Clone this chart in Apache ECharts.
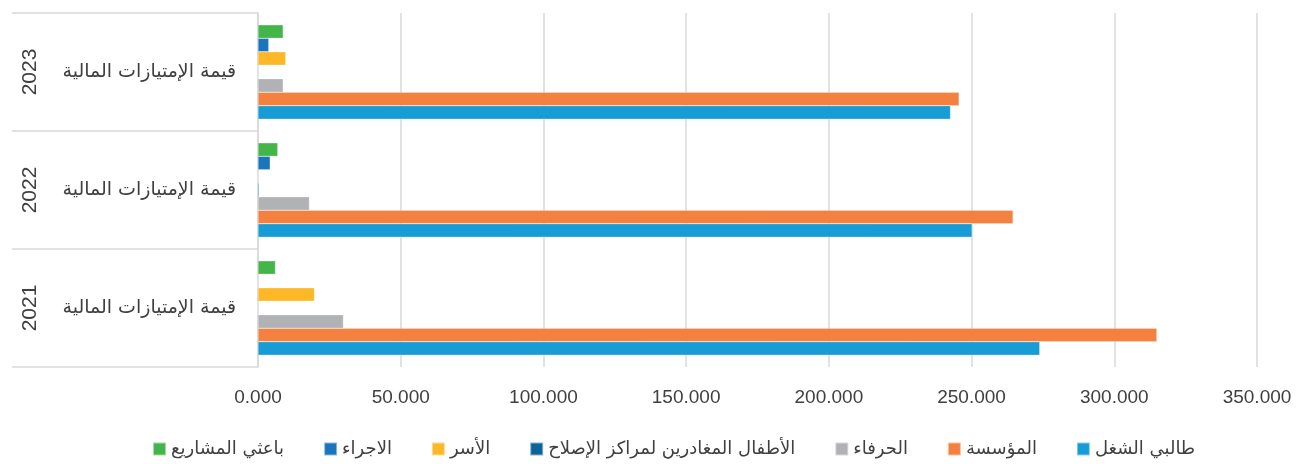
<!DOCTYPE html>
<html>
<head>
<meta charset="utf-8">
<script src="https://cdn.jsdelivr.net/npm/echarts@6/dist/echarts.min.js"></script>
<style>
  html, body { margin: 0; padding: 0; background: #fff; }
  #chart { width: 1304px; height: 464px; }
</style>
</head>
<body>
<div id="chart"></div>
<script>
  // data
  const years = ['2021', '2022', '2023']
  const groupLabel = 'قيمة الإمتيازات المالية'
  const jobSeekers = [273880, 250180, 242620]      // طالبي الشغل
  const institution = [314930, 264530, 245630]     // المؤسسة
  const clients = [29930, 18020, 8820]             // الحرفاء
  const children = [0, 350, 0]                     // الأطفال المغادرين لمراكز الإصلاح
  const families = [19780, 0, 9730]                // الأسر
  const employees = [0, 4270, 3780]                // الاجراء
  const promoters = [6130, 6930, 8820]             // باعثي المشاريع
  const xTicks = [0, 50000, 100000, 150000, 200000, 250000, 300000, 350000]

  // listed top-down inside each group (echarts puts the first series on top)
  const seriesDefs = [
    { name: 'باعثي المشاريع', data: promoters, color: '#44B649' },
    { name: 'الاجراء', data: employees, color: '#1B75BC' },
    { name: 'الأسر', data: families, color: '#FDB827' },
    { name: 'الأطفال المغادرين لمراكز الإصلاح', data: children, color: '#0E6499' },
    { name: 'الحرفاء', data: clients, color: '#B1B2B5' },
    { name: 'المؤسسة', data: institution, color: '#F4813F' },
    { name: 'طالبي الشغل', data: jobSeekers, color: '#179CD6' }
  ]

  const arFont = 'DejaVu Sans'
  const numFont = '"Liberation Sans Narrow", "Liberation Sans", sans-serif'

  const chart = echarts.init(document.getElementById('chart'))
  chart.setOption({
    backgroundColor: '#fff',
    animation: false,
    grid: {
      left: 258,
      right: 47,
      top: 13,
      bottom: 97,
      containLabel: false
    },
    legend: {
      bottom: 1,
      left: 147,
      itemWidth: 13,
      itemHeight: 13,
      itemGap: 39,
      icon: 'rect',
      data: seriesDefs.map(s => s.name),
      textStyle: { color: '#404040', fontSize: 18, fontFamily: arFont }
    },
    xAxis: {
      type: 'value',
      min: xTicks[0],
      max: xTicks[xTicks.length - 1],
      interval: 50000,
      axisLine: { show: false },
      axisTick: { show: false },
      splitLine: { lineStyle: { color: '#D9D9D9', width: 1.5 } },
      axisLabel: {
        color: '#404040',
        fontSize: 19,
        fontFamily: numFont,
        margin: 21,
        formatter: v => (v / 1000).toFixed(3)
      }
    },
    yAxis: [
      {
        type: 'category',
        data: years.map(() => groupLabel),
        axisLine: { show: true, lineStyle: { color: '#D9D9D9', width: 1.5 } },
        axisTick: { show: true, length: 246, lineStyle: { color: '#D9D9D9', width: 1.5 } },
        axisLabel: {
          color: '#404040',
          fontSize: 19,
          fontFamily: arFont,
          margin: 22
        }
      },
      {
        type: 'category',
        data: years,
        position: 'left',
        axisLine: { show: false },
        axisTick: { show: false },
        axisLabel: {
          color: '#404040',
          fontSize: 21,
          fontFamily: numFont,
          rotate: 90,
          margin: 228,
          align: 'center',
          verticalAlign: 'middle'
        }
      }
    ],
    series: seriesDefs.map(s => ({
      name: s.name,
      type: 'bar',
      yAxisIndex: 0,
      data: s.data,
      barGap: '0%',
      barCategoryGap: '20%',
      itemStyle: { color: s.color, borderColor: 'rgba(255,255,255,0.5)', borderWidth: 0.5 }
    }))
  })
</script>
</body>
</html>
